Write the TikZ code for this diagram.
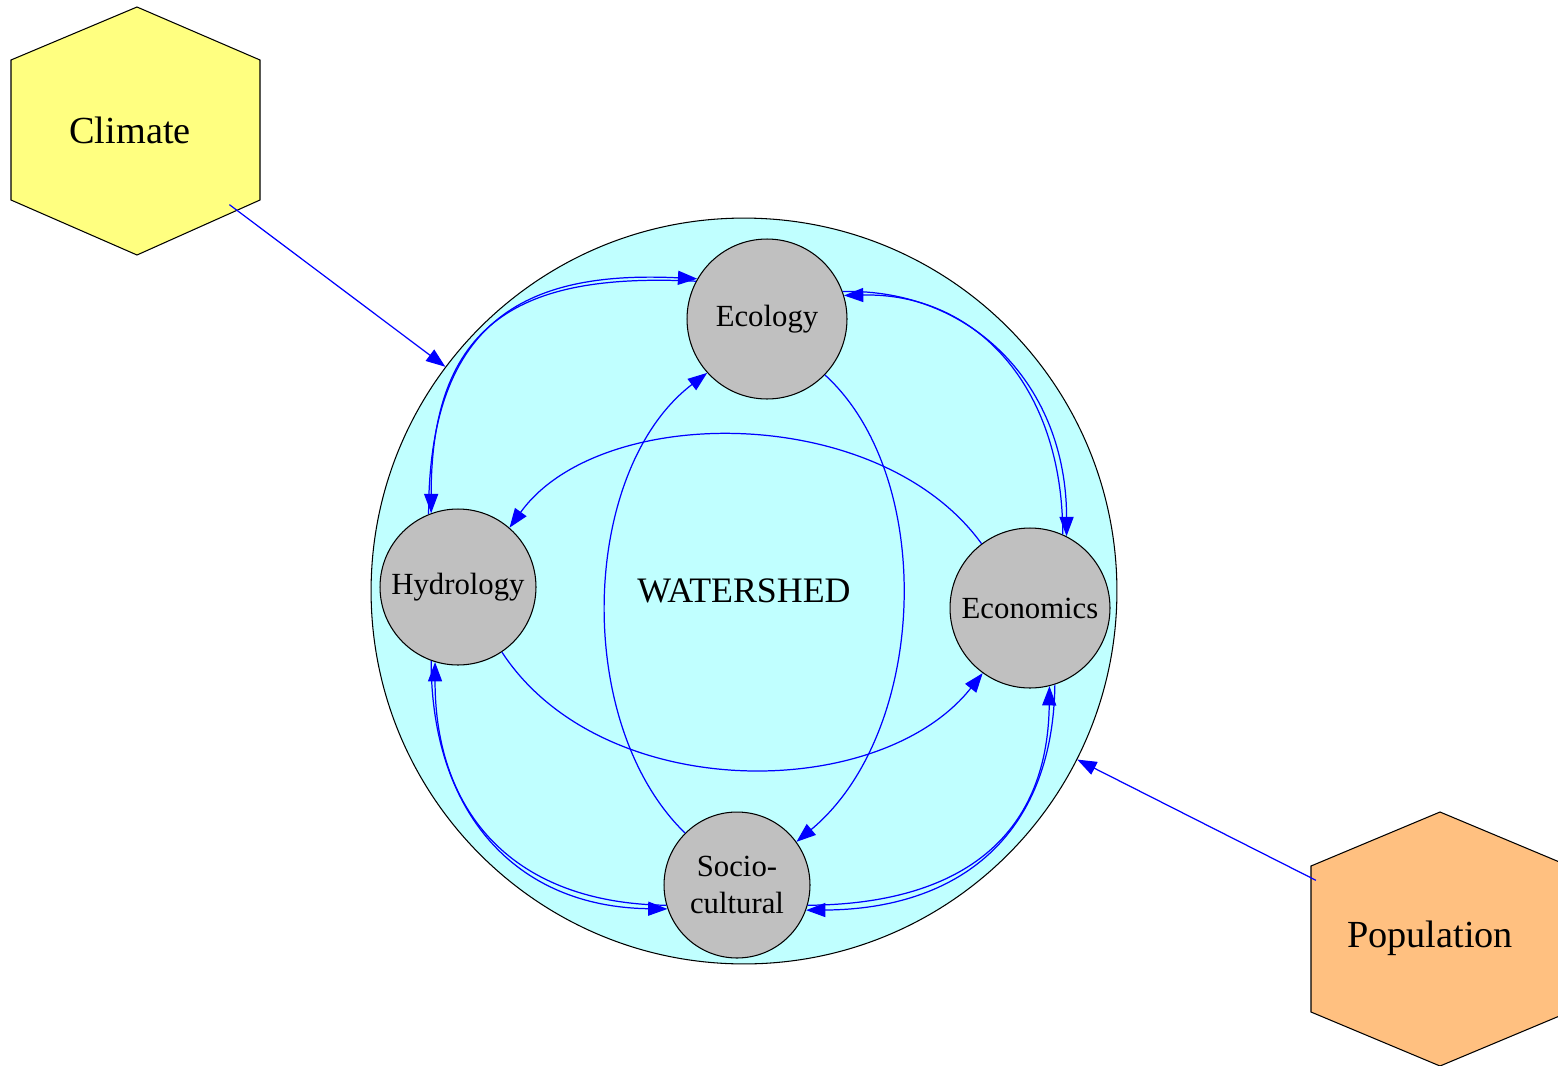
\documentclass[tikz,border=0pt]{standalone}
\usepackage{fontspec}
\setmainfont{Liberation Serif}
\usepackage{xcolor}
\usetikzlibrary{arrows.meta}
\definecolor{shedfill}{HTML}{C0FFFF}
\definecolor{partfill}{HTML}{C0C0C0}
\definecolor{climfill}{HTML}{FFFF80}
\definecolor{popfill}{HTML}{FFC080}

\begin{document}
\begin{tikzpicture}[
    x=0.02cm, y=-0.02cm,
    shed/.style={circle, draw, line width=0.6pt, fill=shedfill, minimum size=14.92cm, inner sep=0pt, font=\fontsize{20.4}{24}\selectfont},
    part/.style={circle, draw, line width=0.6pt, fill=partfill, minimum size=3.2cm, inner sep=0pt, font=\fontsize{17.5}{21}\selectfont},
    driver/.style={circle, inner sep=0pt, font=\fontsize{21.8}{26}\selectfont},
    hexa/.style={draw, line width=0.6pt},
    link/.style={draw=blue, line width=0.7pt, -{Triangle[length=11pt,width=8pt]}}
]
    \useasboundingbox (0,0) rectangle (1558,1065);
    \clip (0,0) rectangle (1558,1065);

    % watershed and its four parts
    \node[shed] (shed) at (744,591) {WATERSHED};
    \node[part] (eco) at (767,319) {Ecology};
    \node[part, minimum size=3.12cm] (hydro) at (458,587) {Hydrology};
    \node[part] (econ) at (1030,608) {Economics};
    \node[part, minimum size=2.92cm, align=center] (socio) at (737,885) {Socio-\\cultural};

    % outside drivers
    \filldraw[hexa, fill=climfill] (137,7) -- (260,60) -- (260,200) -- (137,255) -- (11,200) -- (11,60) -- cycle;
    \filldraw[hexa, fill=popfill] (1440,812) -- (1569,866) -- (1569,1012) -- (1440,1066) -- (1311,1012) -- (1311,866) -- cycle;
    \node[driver, minimum size=4.96cm] (climate) at (130,130) {Climate};
    \node[driver, minimum size=5.1cm] (pop) at (1430,938) {Population};

    \draw[link] (climate) -- (shed);
    \draw[link] (pop) -- (shed);

    % outer ring, both ways
    \draw[link] (hydro.112) .. controls +(0,-200) and +(-165,-8) .. (eco.150);
    \draw[link] (eco.152) .. controls +(-165,-8) and +(0,-200) .. (hydro.110);
    \draw[link] (eco.20) .. controls +(130,-3) and +(0,-150) .. (econ.63);
    \draw[link] (econ.66) .. controls +(0,-150) and +(130,-3) .. (eco.17);
    \draw[link] (socio.196) .. controls +(-152,-2) and +(0,152) .. (hydro.253);
    \draw[link] (hydro.250) .. controls +(0,152) and +(-152,-2) .. (socio.199);
    \draw[link] (socio.344) .. controls +(152,-1) and +(-2,152) .. (econ.284);
    \draw[link] (econ.288) .. controls +(-2,152) and +(152,-1) .. (socio.340);

    % across the middle
    \draw[link] (econ.127) .. controls +(-103,-142) and +(90,-125) .. (hydro.49);
    \draw[link] (hydro.304) .. controls +(100,153) and +(-103,130) .. (econ.234);
    \draw[link] (socio.135) .. controls +(-113,-110) and +(-127,97) .. (eco.222);
    \draw[link] (eco.316) .. controls +(112,102) and +(132,-110) .. (socio.36);
\end{tikzpicture}
\end{document}
